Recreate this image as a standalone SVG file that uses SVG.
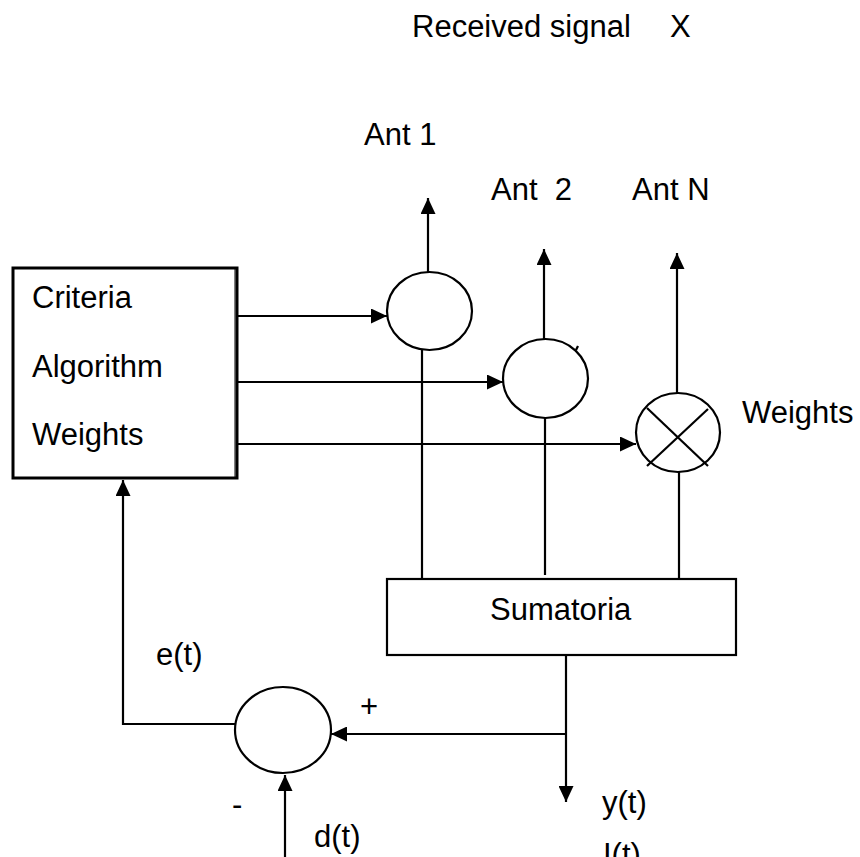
<svg xmlns="http://www.w3.org/2000/svg" width="860" height="857" viewBox="0 0 860 857">
<style>
text{font-family:"Liberation Sans",Arial,sans-serif;font-size:31px;fill:#000}
.ln{stroke:#000;stroke-width:2.2;fill:none}
.sh{stroke:#000;stroke-width:2.2;fill:#fff}
</style>
<defs>
<marker id="ah" markerUnits="userSpaceOnUse" markerWidth="16" markerHeight="15" refX="16" refY="7.5" orient="auto">
<path d="M0,0 L16,7.5 L0,15 z" fill="#000"/>
</marker>
</defs>
<rect width="860" height="857" fill="#fff"/>
<g id="labels">
<text x="412" y="37">Received signal</text>
<text x="670" y="37">X</text>
<text x="364" y="145">Ant 1</text>
<text x="491" y="200" xml:space="preserve">Ant  2</text>
<text x="632" y="200">Ant N</text>
<text x="742" y="423">Weights</text>
<text x="156" y="665">e(t)</text>
<text x="360" y="717">+</text>
<text x="232" y="815">-</text>
<text x="314" y="847">d(t)</text>
<text x="602" y="813">y(t)</text>
<text x="603" y="865">I(t)</text>
</g>
<g id="connectors">
<line class="ln" x1="428" y1="272" x2="428" y2="198" marker-end="url(#ah)"/>
<line class="ln" x1="544" y1="339" x2="544" y2="249" marker-end="url(#ah)"/>
<line class="ln" x1="677" y1="393" x2="677" y2="253" marker-end="url(#ah)"/>
<line class="ln" x1="238" y1="316" x2="387" y2="316" marker-end="url(#ah)"/>
<line class="ln" x1="238" y1="382" x2="503" y2="382" marker-end="url(#ah)"/>
<line class="ln" x1="238" y1="444" x2="636" y2="444" marker-end="url(#ah)"/>
<line class="ln" x1="422" y1="350" x2="422" y2="579"/>
<line class="ln" x1="545" y1="418" x2="545" y2="575"/>
<line class="ln" x1="679" y1="472" x2="679" y2="579"/>
<line class="ln" x1="566" y1="655" x2="566" y2="802" marker-end="url(#ah)"/>
<line class="ln" x1="566" y1="734" x2="331" y2="734" marker-end="url(#ah)"/>
<polyline class="ln" points="235,724 123,724 123,480" marker-end="url(#ah)"/>
<line class="ln" x1="285" y1="857" x2="285" y2="775" marker-end="url(#ah)"/>
<line class="ln" x1="576" y1="350" x2="578" y2="346" stroke-width="1.5"/>
</g>
<g id="criteria">
<rect x="13" y="268" width="224" height="210" fill="#fff" stroke="#000" stroke-width="3"/>
<line x1="235" y1="268" x2="235" y2="478" stroke="#000" stroke-width="1"/>
<text x="32" y="308">Criteria</text>
<text x="32" y="377">Algorithm</text>
<text x="32" y="445">Weights</text>
</g>
<g id="w1"><ellipse class="sh" cx="429.5" cy="311" rx="42.5" ry="39"/></g>
<g id="w2"><ellipse class="sh" cx="545.5" cy="378.5" rx="42.5" ry="39.5"/></g>
<g id="wN">
<ellipse class="sh" cx="678" cy="432.5" rx="42" ry="39.5"/>
<line class="ln" x1="647" y1="408" x2="708" y2="466"/>
<line class="ln" x1="708" y1="409" x2="647" y2="466"/>
</g>
<g id="sumatoria">
<rect class="sh" x="387" y="579" width="349" height="76"/>
<text x="490" y="620">Sumatoria</text>
</g>
<g id="sum-err"><ellipse class="sh" cx="283" cy="730" rx="48" ry="43"/></g>
</svg>
